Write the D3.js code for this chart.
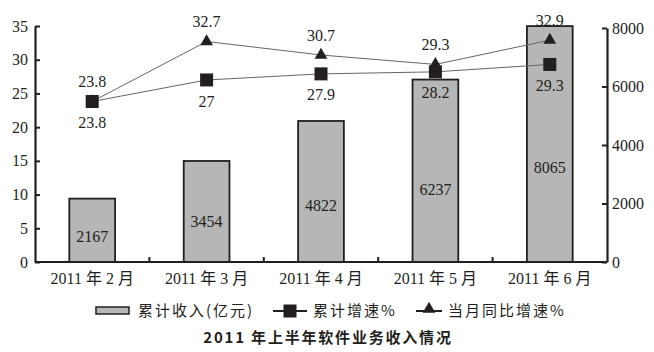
<!DOCTYPE html>
<html>
<head>
<meta charset="utf-8">
<script src="https://cdn.jsdelivr.net/npm/d3@7"></script>
<style>
  body { margin: 0; background: #fff; }
  svg { display: block; }
</style>
</head>
<body>
<svg id="chart" width="654" height="352"></svg>
<script>
const months = ["2011 年 2 月", "2011 年 3 月", "2011 年 4 月", "2011 年 5 月", "2011 年 6 月"];
const revenue = [2167, 3454, 4822, 6237, 8065];        // 累计收入(亿元)
const cumGrowth = [23.8, 27, 27.9, 28.2, 29.3];          // 累计增速%
const monthGrowth = [23.8, 32.7, 30.7, 29.3, 32.9];      // 当月同比增速%
const leftTicks = [0, 5, 10, 15, 20, 25, 30, 35];
const rightTicks = [0, 2000, 4000, 6000, 8000];

const ink = "#231f20";
const serif = "'Liberation Serif', 'Times New Roman', 'Noto Sans CJK SC', serif";
const cjk = "'Noto Sans CJK SC', 'Liberation Serif', sans-serif";

const svg = d3.select("#chart");
const x0 = 35, x1 = 607, yBase = 262;

const x = d3.scaleBand().domain(months).range([x0, x1]).padding(0);
const yL = d3.scaleLinear().domain([0, 35]).range([yBase, 26]);
const yR = d3.scaleLinear().domain([0, 8000]).range([yBase, 28]);
const cx = d => x(d) + x.bandwidth() / 2;
const barW = x.bandwidth() * 0.4;

// bars (right axis)
svg.append("g").selectAll("rect")
  .data(revenue)
  .join("rect")
  .attr("x", (d, i) => cx(months[i]) - barW / 2)
  .attr("y", d => yR(d))
  .attr("width", barW)
  .attr("height", d => yBase - yR(d))
  .attr("fill", "#b5b6b5")
  .attr("stroke", ink)
  .attr("stroke-width", 1.8);

svg.append("g").selectAll("text")
  .data(revenue)
  .join("text")
  .attr("x", (d, i) => cx(months[i]))
  .attr("y", d => yR(d * 0.4))
  .attr("dy", "0.35em")
  .attr("text-anchor", "middle")
  .attr("font-family", serif)
  .attr("font-size", 16)
  .attr("fill", ink)
  .text(d => d);

// axes
const axL = svg.append("g")
  .attr("transform", `translate(${x0},0)`)
  .call(d3.axisLeft(yL).tickValues(leftTicks).tickSizeInner(-5).tickSizeOuter(0).tickPadding(7));
const axR = svg.append("g")
  .attr("transform", `translate(${x1},0)`)
  .call(d3.axisRight(yR).tickValues(rightTicks).tickFormat(d3.format("d"))
    .tickSizeInner(-5).tickSizeOuter(0).tickPadding(5));
[axL, axR].forEach(g => {
  g.attr("font-family", serif);
  g.select(".domain").attr("stroke", ink).attr("stroke-width", 2.2);
  g.selectAll(".tick line").attr("stroke", ink).attr("stroke-width", 2);
  g.selectAll(".tick text").attr("font-family", serif).attr("font-size", 16).attr("fill", ink);
});

// x axis
svg.append("line")
  .attr("x1", x0).attr("x2", x1)
  .attr("y1", yBase).attr("y2", yBase)
  .attr("stroke", ink).attr("stroke-width", 2.2);
svg.append("g").selectAll("line")
  .data(months.slice(1))
  .join("line")
  .attr("x1", d => x(d)).attr("x2", d => x(d))
  .attr("y1", yBase).attr("y2", yBase - 5)
  .attr("stroke", ink).attr("stroke-width", 2);
svg.append("g").selectAll("text")
  .data(months)
  .join("text")
  .attr("x", d => cx(d))
  .attr("y", yBase + 16)
  .attr("dy", "0.35em")
  .attr("text-anchor", "middle")
  .attr("font-family", serif)
  .attr("font-size", 16)
  .attr("fill", ink)
  .text(d => d);

// lines (left axis)
const line = d3.line()
  .x((d, i) => cx(months[i]))
  .y(d => yL(d));

svg.append("path")
  .datum(monthGrowth)
  .attr("fill", "none")
  .attr("stroke", "#666")
  .attr("stroke-width", 1)
  .attr("d", line);

svg.append("path")
  .datum(cumGrowth)
  .attr("fill", "none")
  .attr("stroke", "#666")
  .attr("stroke-width", 1)
  .attr("d", line);

const tri = d3.symbol().type(d3.symbolTriangle).size(70);
svg.append("g").selectAll("path")
  .data(monthGrowth)
  .join("path")
  .attr("transform", (d, i) => `translate(${cx(months[i])},${yL(d)})`)
  .attr("d", tri)
  .attr("fill", ink);

svg.append("g").selectAll("rect")
  .data(cumGrowth)
  .join("rect")
  .attr("x", (d, i) => cx(months[i]) - 6.5)
  .attr("y", d => yL(d) - 6.5)
  .attr("width", 13)
  .attr("height", 13)
  .attr("fill", ink);

svg.append("g").selectAll("text")
  .data(monthGrowth)
  .join("text")
  .attr("x", (d, i) => cx(months[i]))
  .attr("y", d => yL(d) - 20)
  .attr("dy", "0.35em")
  .attr("text-anchor", "middle")
  .attr("font-family", serif)
  .attr("font-size", 16)
  .attr("fill", ink)
  .text(d => d);

svg.append("g").selectAll("text")
  .data(cumGrowth)
  .join("text")
  .attr("x", (d, i) => cx(months[i]))
  .attr("y", d => yL(d) + 21)
  .attr("dy", "0.35em")
  .attr("text-anchor", "middle")
  .attr("font-family", serif)
  .attr("font-size", 16)
  .attr("fill", ink)
  .text(d => d);

// legend
const lg = svg.append("g").attr("font-family", cjk).attr("font-size", 15)
  .attr("letter-spacing", 2).attr("fill", ink);
lg.append("rect").attr("x", 96).attr("y", 307).attr("width", 33).attr("height", 7)
  .attr("fill", "#b5b6b5").attr("stroke", ink).attr("stroke-width", 1.5);
lg.append("text").attr("x", 138).attr("y", 311).attr("dy", "0.35em").text("累计收入(亿元)");

lg.append("line").attr("x1", 273).attr("x2", 307).attr("y1", 311).attr("y2", 311)
  .attr("stroke", ink).attr("stroke-width", 2);
lg.append("rect").attr("x", 283.5).attr("y", 304.5).attr("width", 13).attr("height", 13).attr("fill", ink);
lg.append("text").attr("x", 313).attr("y", 311).attr("dy", "0.35em").text("累计增速%");

lg.append("line").attr("x1", 416).attr("x2", 442).attr("y1", 311).attr("y2", 311)
  .attr("stroke", ink).attr("stroke-width", 2);
lg.append("path").attr("transform", "translate(429,309)").attr("d", tri).attr("fill", ink);
lg.append("text").attr("x", 448).attr("y", 311).attr("dy", "0.35em").text("当月同比增速%");

// title
svg.append("text")
  .attr("x", 328).attr("y", 338).attr("dy", "0.35em")
  .attr("text-anchor", "middle")
  .attr("font-family", cjk)
  .attr("font-size", 15)
  .attr("letter-spacing", 1.8)
  .attr("font-weight", "bold")
  .attr("fill", ink)
  .text("2011 年上半年软件业务收入情况");
</script>
</body>
</html>
